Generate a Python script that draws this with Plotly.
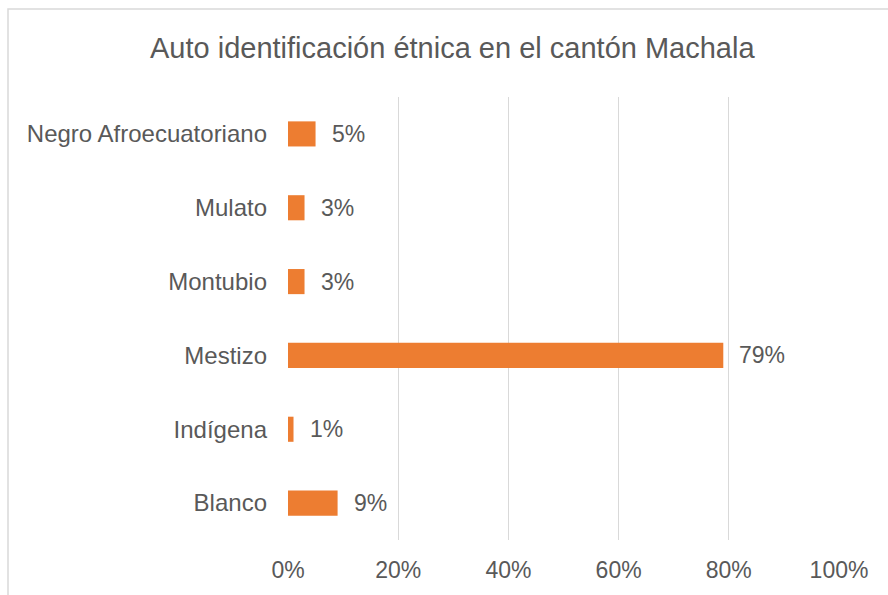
import plotly.graph_objects as go

categories = ["Blanco", "Indígena", "Mestizo", "Montubio", "Mulato", "Negro Afroecuatoriano"]
shares = [0.09, 0.01, 0.79, 0.03, 0.03, 0.05]
labels = ["9%", "1%", "79%", "3%", "3%", "5%"]
tick_vals = [0, 0.2, 0.4, 0.6, 0.8, 1.0]
tick_text = ["0%", "20%", "40%", "60%", "80%", "100%"]

W, H = 888, 595
L, R, T, B = 288, 49, 97, 55
pw, ph = W - L - R, H - T - B

fig = go.Figure(go.Bar(
    y=categories, x=shares, orientation="h",
    marker=dict(color="#ED7D31", line=dict(width=0)),
    hoverinfo="skip",
))

annotations = [
    dict(x=v, y=c, text=t, showarrow=False, xanchor="left", yanchor="middle",
         xshift=14, font=dict(size=23, color="#595959"))
    for c, v, t in zip(categories, shares, labels)
]
annotations.append(dict(
    text="Auto identificación étnica en el cantón Machala",
    xref="paper", yref="paper", x=(452 - L) / pw, y=1 + (T - 48) / ph,
    xanchor="center", yanchor="middle", showarrow=False,
    font=dict(size=29, color="#595959"),
))

# outer chart frame
fig.add_shape(type="rect", xref="paper", yref="paper",
              x0=(8 - L) / pw, x1=(950 - L) / pw,
              y0=-0.3, y1=1 + (T - 9) / ph,
              line=dict(color="#D9D9D9", width=1.5), layer="below")

fig.update_layout(
    width=W, height=H,
    margin=dict(l=L, r=R, t=T, b=B),
    paper_bgcolor="white", plot_bgcolor="white",
    font=dict(family="Liberation Sans, Arial, sans-serif", color="#595959"),
    bargap=0.66,
    showlegend=False,
    annotations=annotations,
    xaxis=dict(range=[0, 1], tickvals=tick_vals, ticktext=tick_text,
               showgrid=True, gridcolor="#D9D9D9", gridwidth=1,
               zeroline=False, showline=False, ticks="",
               tickfont=dict(size=23, color="#595959"), ticklabelstandoff=14),
    yaxis=dict(showgrid=False, zeroline=False, showline=False, ticks="",
               tickfont=dict(size=24, color="#595959"), ticklabelstandoff=20),
)

fig.write_html("out.html")
